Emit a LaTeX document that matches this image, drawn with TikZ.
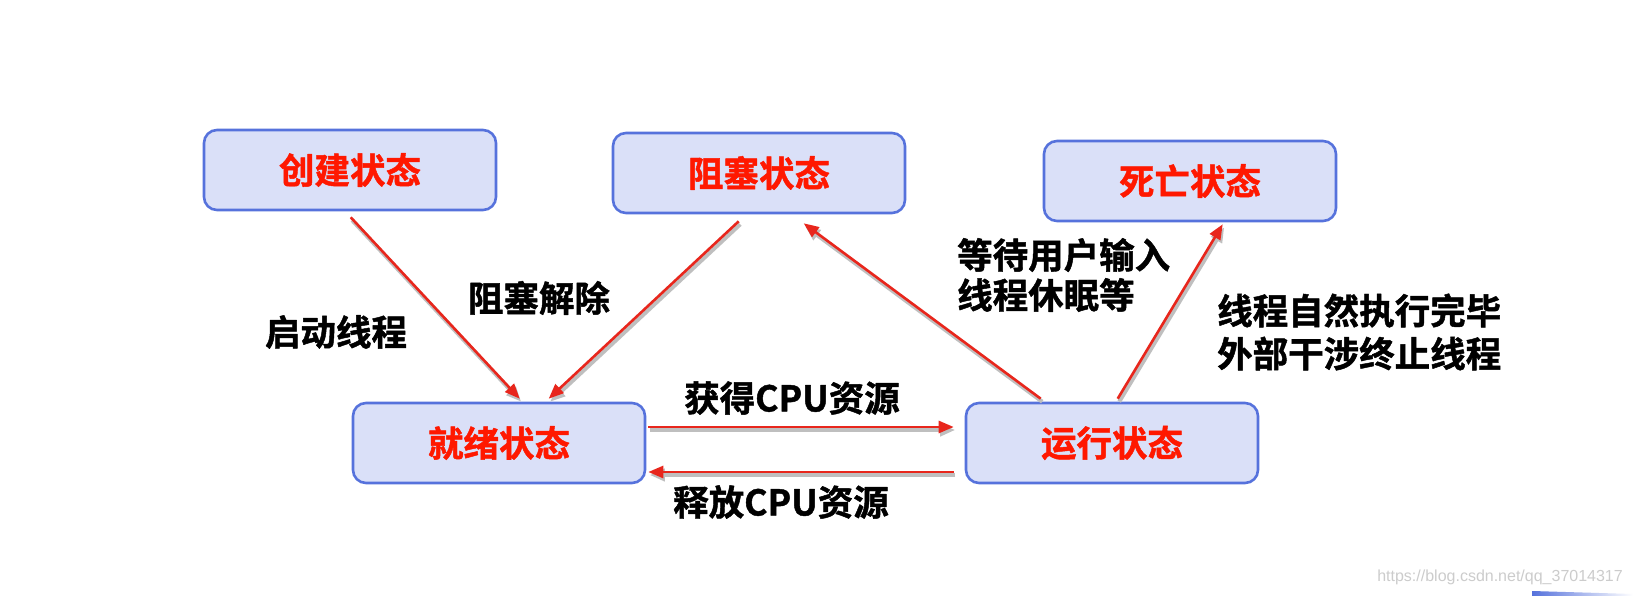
\documentclass[tikz,border=0pt]{standalone}
\usepackage{fontspec}
\newfontfamily\cjk{Noto Sans CJK SC}[BoldFont={Noto Sans CJK SC Bold},BoldFeatures={FakeBold=1.3}]
\newfontfamily\webfont{Liberation Sans}
\usetikzlibrary{arrows.meta,calc}
\definecolor{boxfill}{RGB}{218,224,248}
\definecolor{boxline}{RGB}{86,114,220}
\definecolor{statered}{RGB}{255,24,0}
\definecolor{flowred}{RGB}{232,38,28}
\tikzset{
  state/.style={draw=boxline,line width=2.6pt,fill=boxfill,rounded corners=13pt,
    minimum width=292pt,minimum height=80pt,inner sep=0pt,
    text=statered,font=\cjk\bfseries\fontsize{35.5}{40}\selectfont},
  flow/.style={draw=flowred,line width=2.6pt,-{Triangle[length=15pt,width=12pt]},
    preaction={draw=black!25,line width=4pt,-{Triangle[length=15pt,width=12pt]},
      transform canvas={shift={(1.5pt,-3pt)}}}},
  tag/.style={inner sep=0pt,text=black,align=left,
    font=\cjk\bfseries\fontsize{35.5}{40}\selectfont},
}
\begin{document}
\begin{tikzpicture}[x=1pt,y=-1pt,>=latex,line join=bevel]
\useasboundingbox [fill=white] (0,0) rectangle (1633,596);
%%
 \node (node_new) at (350,170) [state] {创建状态};
 \node (node_blocked) at (759,173) [state] {阻塞状态};
 \node (node_dead) at (1190,181) [state] {死亡状态};
 \node (node_ready) at (499,443) [state] {就绪状态};
 \node (node_running) at (1112,443) [state] {运行状态};

 \draw [flow] ($(node_new.south west)+(148,6)$) -- ($(node_ready.north west)+(168,-3)$);
 \draw [flow] ($(node_blocked.south west)+(127,7)$) -- ($(node_ready.north west)+(197,-3)$);
 \draw [flow] ($(node_running.north west)+(76,-3)$) -- ($(node_blocked.south west)+(192,9)$);
 \draw [flow] ($(node_running.north west)+(153,-3)$) -- ($(node_dead.south west)+(180,2)$);
 \draw [flow] ($(node_ready.east)+(2,-16)$) -- ($(node_running.west)+(-11,-16)$);
 \draw [flow] ($(node_running.west)+(-11,29)$) -- ($(node_ready.east)+(2,29)$);
%
 \node (tag_start) at (336,332) [tag] {启动线程};
 \node (tag_unblock) at (539,298) [tag] {阻塞解除};
 \node (tag_wait) at (957,275) [tag,anchor=west] {等待用户输入\\线程休眠等};
 \node (tag_finish) at (1217,332) [tag,anchor=west,
   font=\cjk\bfseries\fontsize{35.5}{43}\selectfont] {线程自然执行完毕\\外部干涉终止线程};
 \node (tag_get) at (792,398) [tag] {获得CPU资源};
 \node (tag_release) at (781,502) [tag] {释放CPU资源};
%
 \node (tag_url) at (1623,577) [anchor=east,inner sep=0pt,text=black!20,
   font=\webfont\fontsize{16}{18}\selectfont] {https://blog.csdn.net/qq\_37014317};
 \shade [left color=boxline,right color=white] (1532,591) -- (1633,594) -- (1633,596) -- (1532,596) -- cycle;
%
\end{tikzpicture}
\end{document}
